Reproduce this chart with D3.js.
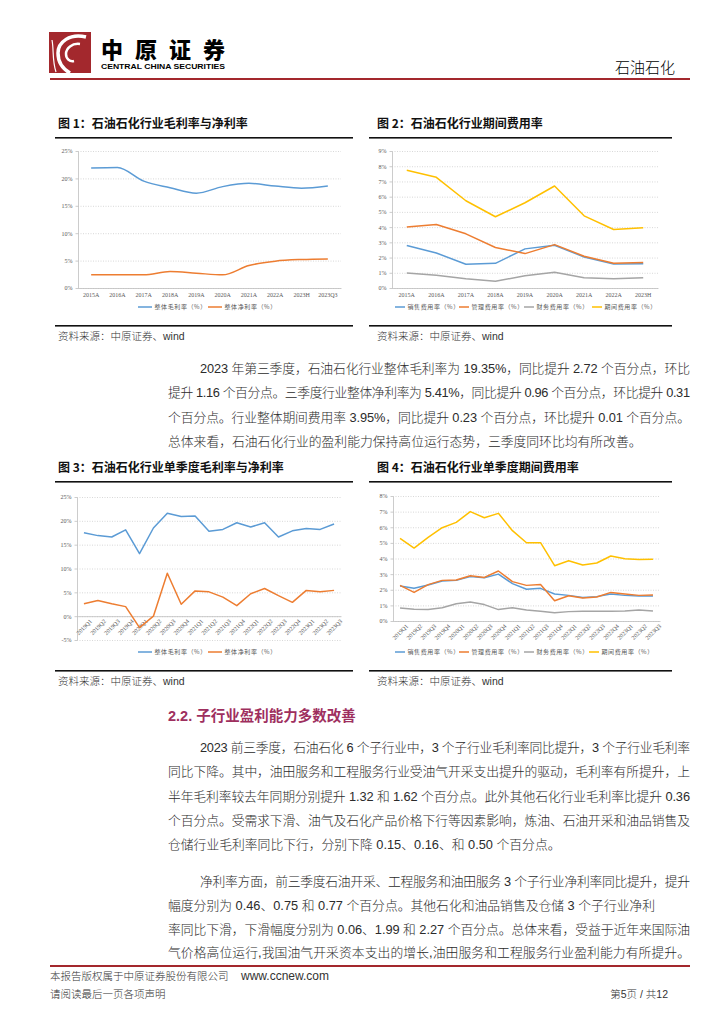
<!DOCTYPE html>
<html>
<head>
<meta charset="utf-8">
<script src="https://cdn.jsdelivr.net/npm/d3@7/dist/d3.min.js"></script>
<style>
  body { margin: 0; background: #fff; }
  svg { display: block; }
</style>
</head>
<body>
<svg id="page" width="724" height="1024"></svg>
<script>
"use strict";

// ---- data ----
const years1 = ["2015A", "2016A", "2017A", "2018A", "2019A", "2020A", "2021A", "2022A", "2023H", "2023Q3"];
const grossYear = [21.9, 22.0, 19.5, 18.3, 17.3, 18.5, 19.1, 18.6, 18.2, 18.6];
const netYear = [2.4, 2.4, 2.4, 3.0, 2.7, 2.4, 4.1, 4.9, 5.2, 5.3];

const years2 = ["2015A", "2016A", "2017A", "2018A", "2019A", "2020A", "2021A", "2022A", "2023H"];
const salesYear = [2.79, 2.30, 1.56, 1.62, 2.57, 2.81, 2.04, 1.58, 1.60];
const mgmtYear = [4.00, 4.17, 3.56, 2.66, 2.26, 2.85, 2.09, 1.62, 1.67];
const finYear = [0.99, 0.83, 0.61, 0.44, 0.81, 1.03, 0.68, 0.61, 0.68];
const periodYear = [7.73, 7.27, 5.73, 4.68, 5.60, 6.70, 4.74, 3.84, 3.95];

const quarters = ["2019Q1", "2019Q2", "2019Q3", "2019Q4", "2020Q1", "2020Q2", "2020Q3", "2020Q4",
  "2021Q1", "2021Q2", "2021Q3", "2021Q4", "2022Q1", "2022Q2", "2022Q3", "2022Q4",
  "2023Q1", "2023Q2", "2023Q3"];
const grossQ = [17.5, 16.9, 16.6, 18.1, 13.1, 18.5, 21.6, 20.9, 21.0, 17.8, 18.2, 19.6, 18.7, 19.6, 16.6, 17.9, 18.4, 18.2, 19.35];
const netQ = [2.6, 3.3, 2.6, 2.0, -2.4, 0.0, 9.0, 2.5, 5.3, 5.1, 4.0, 2.2, 4.7, 5.8, 4.3, 2.9, 5.4, 5.1, 5.41];

const salesQ = [2.24, 2.09, 2.30, 2.56, 2.60, 2.84, 2.77, 3.00, 2.39, 2.03, 2.09, 1.73, 1.64, 1.51, 1.56, 1.73, 1.64, 1.60, 1.60];
const mgmtQ = [2.28, 1.83, 2.33, 2.60, 2.62, 2.90, 2.79, 3.20, 2.52, 2.28, 2.33, 1.30, 1.62, 1.47, 1.54, 1.83, 1.73, 1.64, 1.66];
const finQ = [0.83, 0.75, 0.73, 0.85, 1.11, 1.22, 1.05, 0.73, 0.85, 0.70, 0.62, 0.53, 0.60, 0.62, 0.62, 0.62, 0.64, 0.70, 0.64];
const periodQ = [5.29, 4.67, 5.35, 5.97, 6.31, 7.00, 6.61, 6.89, 5.78, 5.01, 5.01, 3.54, 3.86, 3.58, 3.71, 4.16, 3.99, 3.93, 3.95];

const ticks1 = [0, 5, 10, 15, 20, 25];
const ticks2 = [0, 1, 2, 3, 4, 5, 6, 7, 8, 9];
const ticks3 = [-5, 0, 5, 10, 15, 20, 25];
const ticks4 = [0, 1, 2, 3, 4, 5, 6, 7, 8];

const marginNames = ["整体毛利率（%）", "整体净利率（%）"];
const expenseNames = ["销售费用率（%）", "管理费用率（%）", "财务费用率（%）", "期间费用率（%）"];

const para1 = [
  "2023 年第三季度，石油石化行业整体毛利率为 19.35%，同比提升 2.72 个百分点，环比",
  "提升 1.16 个百分点。三季度行业整体净利率为 5.41%，同比提升 0.96 个百分点，环比提升 0.31",
  "个百分点。行业整体期间费用率 3.95%，同比提升 0.23 个百分点，环比提升 0.01 个百分点。",
  "总体来看，石油石化行业的盈利能力保持高位运行态势，三季度同环比均有所改善。"
];
const para2 = [
  "2023 前三季度，石油石化 6 个子行业中，3 个子行业毛利率同比提升，3 个子行业毛利率",
  "同比下降。其中，油田服务和工程服务行业受油气开采支出提升的驱动，毛利率有所提升，上",
  "半年毛利率较去年同期分别提升 1.32 和 1.62 个百分点。此外其他石化行业毛利率比提升 0.36",
  "个百分点。受需求下滑、油气及石化产品价格下行等因素影响，炼油、石油开采和油品销售及",
  "仓储行业毛利率同比下行，分别下降 0.15、0.16、和 0.50 个百分点。"
];
const para3 = [
  "净利率方面，前三季度石油开采、工程服务和油田服务 3 个子行业净利率同比提升，提升",
  "幅度分别为 0.46、0.75 和 0.77 个百分点。其他石化和油品销售及仓储 3 个子行业净利",
  "率同比下滑，下滑幅度分别为 0.06、1.99 和 2.27 个百分点。总体来看，受益于近年来国际油",
  "气价格高位运行,我国油气开采资本支出的增长,油田服务和工程服务行业盈利能力有所提升。"
];

const BLUE = "#5B9BD5", ORANGE = "#ED7D31", GRAY = "#A5A5A5", YELLOW = "#FFC000";
const BODY_FONT = "'Liberation Sans', 'Noto Sans CJK SC', sans-serif";
const CJK_FONT = "'Noto Sans CJK SC', sans-serif";
const TICK_FONT = "'Liberation Serif', serif";
const MAROON = "#A3282D";

const svg = d3.select("#page");
svg.append("rect").attr("width", 724).attr("height", 1024).attr("fill", "#fff");

// ---- header ----
const head = svg.append("g");
head.append("rect").attr("x", 49).attr("y", 32).attr("width", 42).attr("height", 41).attr("fill", MAROON);
head.append("path")
  .attr("d", "M86 37 C70 33 58 42 58 53 C58 62 63 69 70 73")
  .attr("fill", "none").attr("stroke", "#fff").attr("stroke-width", 3.5);
head.append("path")
  .attr("d", "M80 44 C72 43 66 48 66 54 C66 59 70 62 74 61")
  .attr("fill", "none").attr("stroke", "#fff").attr("stroke-width", 2.5);
head.append("path")
  .attr("d", "M52 40 C54 50 52 60 56 72")
  .attr("fill", "none").attr("stroke", "#fff").attr("stroke-width", 1.2);
head.append("text").attr("x", 101).attr("y", 58)
  .attr("font-family", CJK_FONT).attr("font-weight", 900).attr("font-size", 22)
  .attr("textLength", 124).attr("lengthAdjust", "spacing")
  .text("中原证券");
head.append("text").attr("x", 101).attr("y", 69)
  .attr("font-family", "'Liberation Sans', sans-serif").attr("font-weight", 700).attr("font-size", 7)
  .attr("textLength", 124).attr("lengthAdjust", "spacingAndGlyphs")
  .text("CENTRAL CHINA SECURITIES");
head.append("text").attr("x", 675).attr("y", 73).attr("text-anchor", "end")
  .attr("font-family", CJK_FONT).attr("font-weight", 300).attr("font-size", 15)
  .text("石油石化");
head.append("rect").attr("x", 50).attr("y", 78).attr("width", 640).attr("height", 2).attr("fill", MAROON);

// ---- chart helper ----
function drawChart(o) {
  const g = svg.append("g");
  g.append("text").attr("x", o.titleX).attr("y", o.titleY)
    .attr("font-family", CJK_FONT).attr("font-weight", 700).attr("font-size", 12)
    .attr("fill", "#111").text(o.title);
  g.append("rect").attr("x", o.x0).attr("y", o.titleY + 9).attr("width", o.x1 - o.x0).attr("height", 1.6).attr("fill", "#111");
  g.append("rect").attr("x", o.x0).attr("y", o.bottomY).attr("width", o.x1 - o.x0).attr("height", 1.6).attr("fill", "#111");
  g.append("text").attr("x", o.titleX).attr("y", o.bottomY + 15)
    .attr("font-family", BODY_FONT).attr("font-weight", 300).attr("font-size", 10.5).attr("fill", "#333")
    .text("资料来源：中原证券、wind");

  const x = d3.scaleBand().domain(o.cats).range([o.left, o.right]);
  const y = d3.scaleLinear().domain(o.domain).range([o.bottom, o.top]);
  const w = o.right - o.left;

  // grid
  const grid = g.append("g").attr("transform", "translate(" + o.left + ",0)")
    .call(d3.axisRight(y).tickValues(o.ticks).tickFormat("").tickSize(w));
  grid.select(".domain").remove();
  grid.selectAll("line").attr("stroke", "#BDBDBD").attr("stroke-width", 0.6).attr("stroke-dasharray", "1,1.5");

  // y axis
  const ya = g.append("g").attr("transform", "translate(" + o.left + ",0)")
    .call(d3.axisLeft(y).tickValues(o.ticks).tickFormat(d => d + "%").tickSize(2.5).tickSizeOuter(0).tickPadding(3));
  ya.select(".domain").attr("stroke", "#BFBFBF").attr("stroke-width", 0.8);
  ya.selectAll("line").attr("stroke", "#BFBFBF").attr("stroke-width", 0.8);
  ya.selectAll("text").attr("font-family", TICK_FONT).attr("font-size", 6).attr("fill", "#595959");

  // x axis on the zero line
  const xa = g.append("g").attr("transform", "translate(0," + y(0) + ")")
    .call(d3.axisBottom(x).tickSize(0).tickSizeOuter(0).tickPadding(5));
  xa.select(".domain").attr("stroke", "#BFBFBF").attr("stroke-width", 0.8);
  xa.selectAll("text").attr("font-family", TICK_FONT).attr("font-size", 6).attr("fill", "#595959");
  if (o.rotate) {
    xa.selectAll("text")
      .attr("text-anchor", "end")
      .attr("dy", 0)
      .attr("transform", "translate(5,2) rotate(-45)");
  }

  const line = d3.line()
    .x((d, i) => x(o.cats[i]) + x.bandwidth() / 2)
    .y(d => y(d))
    .curve(o.curve || d3.curveLinear);

  o.series.forEach(s => {
    g.append("path").datum(s.values)
      .attr("d", line).attr("fill", "none")
      .attr("stroke", s.color).attr("stroke-width", 1.5).attr("stroke-linejoin", "round");
  });

  // legend
  const lg = g.append("g");
  o.series.forEach((s, i) => {
    const lx = o.legendX[i];
    lg.append("line").attr("x1", lx).attr("x2", lx + o.legendLen).attr("y1", o.legendY).attr("y2", o.legendY)
      .attr("stroke", s.color).attr("stroke-width", 1.5);
    lg.append("text").attr("x", lx + o.legendLen + 2.5).attr("y", o.legendY + 2)
      .attr("font-family", CJK_FONT).attr("font-size", 6).attr("letter-spacing", 0.6).attr("fill", "#595959")
      .text(s.name);
  });
}

drawChart({
  title: "图 1：石油石化行业毛利率与净利率", titleX: 58, titleY: 128, x0: 55, x1: 353, bottomY: 325,
  cats: years1, domain: [0, 25], ticks: ticks1, left: 78, right: 341, top: 151, bottom: 288,
  curve: d3.curveMonotoneX,
  series: [
    {name: marginNames[0], values: grossYear, color: BLUE},
    {name: marginNames[1], values: netYear, color: ORANGE}
  ],
  legendX: [138, 208], legendLen: 14, legendY: 307
});

drawChart({
  title: "图 2：石油石化行业期间费用率", titleX: 377, titleY: 128, x0: 369, x1: 672, bottomY: 325,
  cats: years2, domain: [0, 9], ticks: ticks2, left: 392, right: 658, top: 151, bottom: 288,
  series: [
    {name: expenseNames[0], values: salesYear, color: BLUE},
    {name: expenseNames[1], values: mgmtYear, color: ORANGE},
    {name: expenseNames[2], values: finYear, color: GRAY},
    {name: expenseNames[3], values: periodYear, color: YELLOW}
  ],
  legendX: [395, 459, 524, 592], legendLen: 10, legendY: 307
});

drawChart({
  title: "图 3：石油石化行业单季度毛利率与净利率", titleX: 58, titleY: 472, x0: 55, x1: 353, bottomY: 670,
  cats: quarters, domain: [-5, 25], ticks: ticks3, left: 77, right: 341, top: 497, bottom: 640,
  rotate: true,
  series: [
    {name: marginNames[0], values: grossQ, color: BLUE},
    {name: marginNames[1], values: netQ, color: ORANGE}
  ],
  legendX: [138, 208], legendLen: 14, legendY: 652
});

drawChart({
  title: "图 4：石油石化行业单季度期间费用率", titleX: 377, titleY: 472, x0: 369, x1: 672, bottomY: 670,
  cats: quarters, domain: [0, 8], ticks: ticks4, left: 393, right: 660, top: 496, bottom: 621,
  rotate: true,
  series: [
    {name: expenseNames[0], values: salesQ, color: BLUE},
    {name: expenseNames[1], values: mgmtQ, color: ORANGE},
    {name: expenseNames[2], values: finQ, color: GRAY},
    {name: expenseNames[3], values: periodQ, color: YELLOW}
  ],
  legendX: [395, 459, 524, 589], legendLen: 10, legendY: 652
});

// ---- body text ----
const TEXT_LEFT = 168, TEXT_RIGHT = 690, INDENT = 200;
function paragraph(lines, y0, step, justify) {
  lines.forEach((t, i) => {
    const x = i === 0 ? INDENT : TEXT_LEFT;
    const el = svg.append("text").attr("x", x).attr("y", y0 + i * step)
      .attr("font-family", BODY_FONT).attr("font-weight", 300).attr("font-size", 12.8)
      .attr("fill", "#2b2b2b").text(t);
    if (justify[i]) el.attr("textLength", TEXT_RIGHT - x).attr("lengthAdjust", "spacing");
  });
}
paragraph(para1, 373, 24.4, [true, true, true, false]);

svg.append("text").attr("x", TEXT_LEFT).attr("y", 721)
  .attr("font-family", BODY_FONT).attr("font-weight", 700).attr("font-size", 14.5).attr("fill", "#9E2F5E")
  .text("2.2. 子行业盈利能力多数改善");

paragraph(para2, 752, 24.3, [true, true, true, true, false]);
paragraph(para3, 886, 23.8, [true, false, true, true]);

// ---- footer ----
svg.append("rect").attr("x", 50).attr("y", 965).attr("width", 640).attr("height", 2).attr("fill", MAROON);
const foot = svg.append("g").attr("font-family", BODY_FONT).attr("font-weight", 300).attr("font-size", 10.5).attr("fill", "#333");
foot.append("text").attr("x", 50).attr("y", 980).text("本报告版权属于中原证券股份有限公司");
foot.append("text").attr("x", 241).attr("y", 980).attr("font-size", 12).text("www.ccnew.com");
foot.append("text").attr("x", 50).attr("y", 998).text("请阅读最后一页各项声明");
foot.append("text").attr("x", 668).attr("y", 998).attr("text-anchor", "end").text("第5页 / 共12");
</script>
</body>
</html>
